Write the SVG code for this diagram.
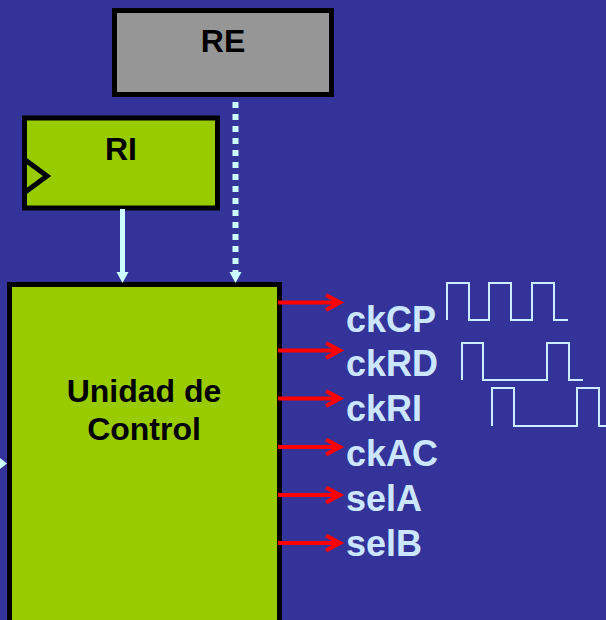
<svg xmlns="http://www.w3.org/2000/svg" width="606" height="620" viewBox="0 0 606 620">
<style>
.box{stroke:#000;stroke-width:5}
.t{font-family:"Liberation Sans",Arial,sans-serif;font-weight:bold;font-size:32px;fill:#000;text-anchor:middle}
.lbl{font-family:"Liberation Sans",Arial,sans-serif;font-weight:bold;font-size:36px;fill:#cce6ff}
.red{stroke:#ff0000;stroke-width:4;fill:none}
.wave{stroke:#ccecff;stroke-width:2;fill:none}
.cy{fill:#ccffff}
</style>
<rect width="606" height="620" fill="#333399"/>
<g id="RE">
<rect class="box" x="114.5" y="10.5" width="217" height="84" fill="#969696"/>
<text class="t" x="223" y="52">RE</text>
</g>
<g id="RI">
<rect class="box" x="24.5" y="118" width="193" height="90" fill="#99cc00"/>
<polyline points="24,159 47,176 24,193" fill="none" stroke="#000" stroke-width="5"/>
<text class="t" x="121" y="160">RI</text>
</g>
<g id="UC">
<rect class="box" x="9.5" y="284.5" width="270" height="400" fill="#99cc00"/>
<text class="t" x="144" y="402">Unidad de</text>
<text class="t" x="144" y="440">Control</text>
</g>
<g id="connectors">
<line x1="122.5" y1="209" x2="122.5" y2="273" stroke="#ccffff" stroke-width="5"/>
<polygon class="cy" points="116.5,272 128.5,272 122.5,283"/>
<line x1="235.5" y1="102" x2="235.5" y2="272" stroke="#ccffff" stroke-width="6" stroke-dasharray="6 6"/>
<polygon class="cy" points="229.5,272 241.5,272 235.5,283"/>
<polygon class="cy" points="0,458 7,463.5 0,469"/>
<g class="red">
<path d="M278,302.5H339M326,295L340,302.5L326,310"/>
<path d="M278,350.5H339M326,343L340,350.5L326,358"/>
<path d="M278,398.5H339M326,391L340,398.5L326,406"/>
<path d="M278,447H339M326,439.5L340,447L326,454.5"/>
<path d="M278,495H339M326,487.5L340,495L326,502.5"/>
<path d="M278,543H339M326,535.5L340,543L326,550.5"/>
</g>
</g>
<g id="labels">
<text class="lbl" x="346" y="332">ckCP</text>
<text class="lbl" x="346" y="376">ckRD</text>
<text class="lbl" x="346" y="421">ckRI</text>
<text class="lbl" x="346" y="466">ckAC</text>
<text class="lbl" x="346" y="511">selA</text>
<text class="lbl" x="346" y="556">selB</text>
</g>
<g id="waveforms">
<path class="wave" d="M447,320V283H469V320H489V283H511V320H532V283H554V320H568"/>
<path class="wave" d="M462,380V343H483V380H547V343H569V380H583"/>
<path class="wave" d="M492,426V388H514V426H577V388H599V426H610"/>
</g>
</svg>
